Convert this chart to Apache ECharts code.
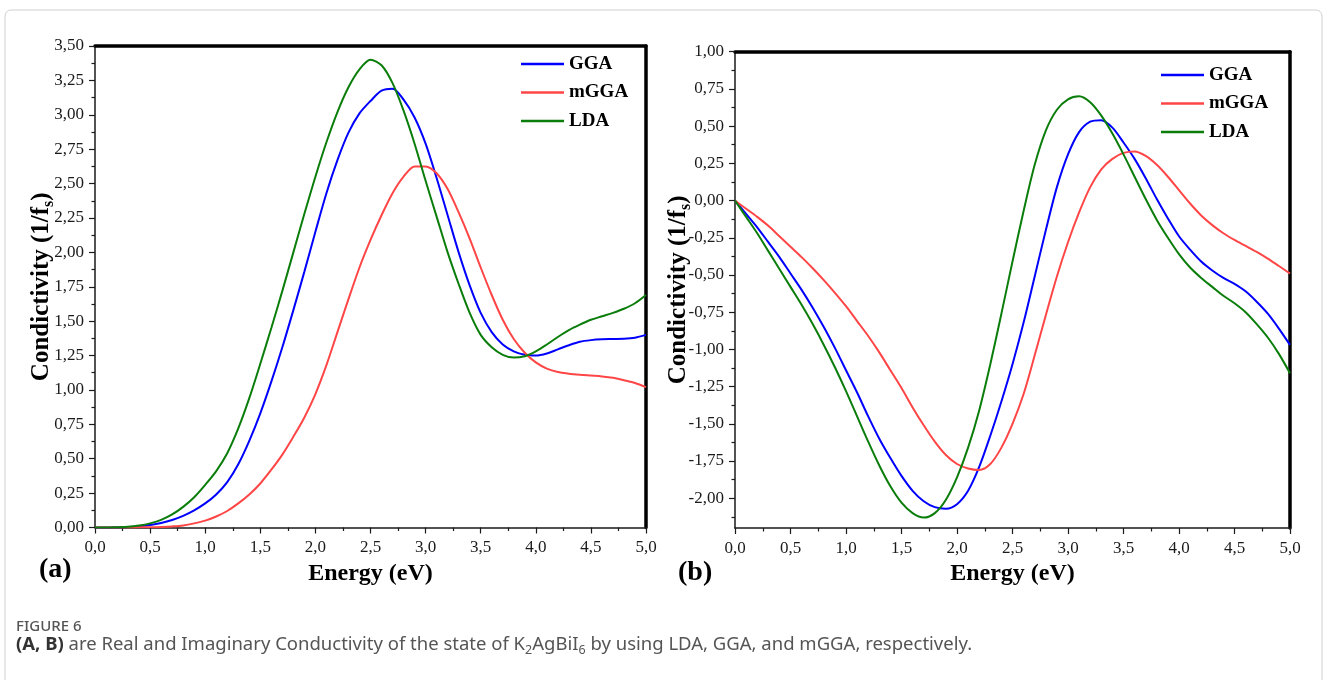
<!DOCTYPE html>
<html>
<head>
<meta charset="utf-8">
<title>Figure 6</title>
<script src="https://cdn.jsdelivr.net/npm/echarts@6/dist/echarts.min.js"></script>
<style>
html,body{margin:0;padding:0;background:#fff;}
#main{width:1328px;height:680px;}
</style>
</head>
<body>
<div id="main"></div>
<script>
// energy grid (eV), same for both panels
var energy = [0.0,0.1,0.2,0.3,0.4,0.5,0.6,0.7,0.8,0.9,
              1.0,1.1,1.2,1.3,1.4,1.5,1.6,1.7,1.8,1.9,
              2.0,2.1,2.2,2.3,2.4,2.5,2.6,2.7,2.8,2.9,
              3.0,3.1,3.2,3.3,3.4,3.5,3.6,3.7,3.8,3.9,
              4.0,4.1,4.2,4.3,4.4,4.5,4.6,4.7,4.8,4.9,5.0];

// (a) real conductivity
var realGGA = [0,0,0.001,0.003,0.008,0.018,0.033,0.055,0.085,0.125,
               0.175,0.24,0.33,0.46,0.63,0.83,1.06,1.31,1.58,1.86,
               2.15,2.43,2.67,2.87,3.01,3.10,3.175,3.19,3.11,2.98,
               2.79,2.54,2.27,2.00,1.76,1.56,1.42,1.33,1.28,1.255,
               1.25,1.265,1.295,1.325,1.35,1.362,1.368,1.37,1.372,1.38,1.40];
var realMGGA = [0,0,0,0,0.001,0.002,0.004,0.008,0.015,0.03,
                0.05,0.08,0.12,0.175,0.24,0.32,0.42,0.53,0.66,0.80,
                0.97,1.18,1.42,1.66,1.89,2.09,2.27,2.43,2.55,2.625,
                2.625,2.575,2.46,2.29,2.10,1.89,1.69,1.51,1.37,1.27,
                1.20,1.155,1.13,1.118,1.11,1.104,1.098,1.088,1.07,1.05,1.02];
var realLDA = [0,0,0.002,0.005,0.014,0.03,0.055,0.095,0.15,0.22,
               0.31,0.41,0.54,0.72,0.94,1.19,1.45,1.72,2.00,2.28,
               2.55,2.80,3.02,3.20,3.33,3.40,3.36,3.23,3.03,2.79,
               2.52,2.26,2.00,1.77,1.56,1.40,1.31,1.255,1.235,1.245,
               1.28,1.33,1.385,1.435,1.475,1.51,1.535,1.56,1.59,1.63,1.69];

// (b) imaginary conductivity
var imagGGA = [0,-0.09,-0.18,-0.28,-0.38,-0.49,-0.60,-0.72,-0.85,-0.99,
               -1.14,-1.29,-1.45,-1.60,-1.73,-1.85,-1.95,-2.02,-2.06,-2.07,
               -2.04,-1.95,-1.79,-1.58,-1.35,-1.10,-0.82,-0.51,-0.20,0.09,
               0.31,0.46,0.53,0.54,0.49,0.39,0.28,0.15,0.01,-0.12,
               -0.24,-0.33,-0.41,-0.47,-0.52,-0.56,-0.61,-0.68,-0.76,-0.86,-0.97];
var imagMGGA = [0,-0.055,-0.11,-0.17,-0.24,-0.31,-0.38,-0.455,-0.535,-0.62,
                -0.71,-0.81,-0.91,-1.02,-1.14,-1.26,-1.39,-1.51,-1.62,-1.71,
                -1.77,-1.80,-1.81,-1.77,-1.66,-1.50,-1.30,-1.04,-0.77,-0.51,
                -0.28,-0.08,0.09,0.21,0.28,0.32,0.33,0.30,0.24,0.16,
                0.07,-0.02,-0.10,-0.165,-0.22,-0.265,-0.305,-0.345,-0.39,-0.44,-0.49];
var imagLDA = [0,-0.11,-0.22,-0.34,-0.46,-0.58,-0.70,-0.83,-0.97,-1.12,
               -1.28,-1.45,-1.62,-1.78,-1.92,-2.03,-2.10,-2.13,-2.10,-2.01,
               -1.86,-1.66,-1.41,-1.10,-0.76,-0.41,-0.07,0.24,0.47,0.61,
               0.68,0.70,0.66,0.57,0.45,0.31,0.16,0.01,-0.13,-0.25,
               -0.36,-0.45,-0.52,-0.58,-0.64,-0.69,-0.75,-0.83,-0.92,-1.03,-1.16];

// tick positions of panel (b), whose axis starts at -2.2
var yTicksB = [-2,-1.75,-1.5,-1.25,-1,-0.75,-0.5,-0.25,0,0.25,0.5,0.75,1];
var yMinorB = [-2.125,-1.875,-1.625,-1.375,-1.125,-0.875,-0.625,-0.375,-0.125,0.125,0.375,0.625,0.875];

var names = ['GGA', 'mGGA', 'LDA'];
var colors = ['#0000ff', '#ff4646', '#0a7d0a'];

var serif = '"Liberation Serif", "Times New Roman", "DejaVu Serif", serif';
var ink = '#1a1a1a';

function pairs(ys) {
    return energy.map(function (e, i) { return [e, ys[i]]; });
}
function comma(d) {
    return function (v) { return v.toFixed(d).replace('.', ','); };
}

var yName = '{a|Condictivity (1/f}{b|s}{a|)}';
var yNameStyle = {
    rich: {
        a: {fontFamily: serif, fontWeight: 'bold', fontSize: 25, color: '#000', lineHeight: 28, verticalAlign: 'top'},
        b: {fontFamily: serif, fontWeight: 'bold', fontSize: 16, color: '#000', lineHeight: 20, verticalAlign: 'bottom'}
    },
    lineHeight: 34
};
var tickLabel = {fontFamily: serif, fontWeight: 'normal', fontSize: 17, color: ink};

function bottomAxis(grid) {
    return {
        gridIndex: grid, type: 'value', min: 0, max: 5, interval: 0.5, position: 'bottom',
        axisLine: {onZero: false, lineStyle: {color: ink, width: 1.5}},
        axisTick: {length: 6, lineStyle: {color: ink, width: 1.2}},
        minorTick: {show: true, splitNumber: 2, length: 3.5, lineStyle: {color: ink, width: 1.2}},
        splitLine: {show: false},
        axisLabel: Object.assign({formatter: comma(1), margin: 12}, tickLabel),
        name: 'Energy (eV)', nameLocation: 'middle', nameGap: 32,
        nameTextStyle: {fontFamily: serif, fontWeight: 'bold', fontSize: 24, color: '#000'}
    };
}
function topAxis(grid) {
    return {
        gridIndex: grid, type: 'value', min: 0, max: 5, position: 'top',
        axisLine: {show: true, onZero: false, lineStyle: {color: '#000', width: 3.5}},
        axisTick: {show: false}, axisLabel: {show: false}, splitLine: {show: false}
    };
}
function rightAxis(grid, lo, hi) {
    return {
        gridIndex: grid, type: 'value', min: lo, max: hi, position: 'right',
        axisLine: {show: true, onZero: false, lineStyle: {color: '#000', width: 3.5}},
        axisTick: {show: false}, axisLabel: {show: false}, splitLine: {show: false}
    };
}
function legendAt(left, top) {
    return {
        data: names, left: left, top: top, orient: 'vertical', icon: 'rect', padding: 0,
        itemWidth: 43, itemHeight: 2.5, itemGap: 8.5, selectedMode: false,
        textStyle: {fontFamily: serif, fontWeight: 'bold', fontSize: 19, color: '#000', lineHeight: 20}
    };
}

var option = {
    backgroundColor: '#fff',
    animation: false,
    textStyle: {fontFamily: serif},
    grid: [
        {left: 95, top: 46, width: 551, height: 481.5},
        {left: 735, top: 51.7, width: 555, height: 476.3}
    ],
    xAxis: [bottomAxis(0), topAxis(0), bottomAxis(1), topAxis(1)],
    yAxis: [
        {
            gridIndex: 0, type: 'value', min: 0, max: 3.5, interval: 0.25, position: 'left',
            axisLine: {show: true, lineStyle: {color: ink, width: 1.5}},
            axisTick: {show: true, length: 6, lineStyle: {color: ink, width: 1.2}},
            minorTick: {show: true, splitNumber: 2, length: 3.5, lineStyle: {color: ink, width: 1.2}},
            splitLine: {show: false},
            axisLabel: Object.assign({formatter: comma(2), margin: 11}, tickLabel),
            name: yName, nameLocation: 'middle', nameRotate: 90, nameGap: 38,
            nameMoveOverlap: false, nameTextStyle: yNameStyle
        },
        rightAxis(0, 0, 3.5),
        {
            gridIndex: 1, type: 'value', min: -2.2, max: 1, position: 'left',
            axisLine: {show: true, onZero: false, lineStyle: {color: ink, width: 1.5}},
            axisTick: {show: true, length: 6, customValues: yTicksB, lineStyle: {color: ink, width: 1.2}},
            splitLine: {show: false},
            axisLabel: Object.assign({customValues: yTicksB, formatter: comma(2), margin: 11}, tickLabel),
            name: yName, nameLocation: 'middle', nameRotate: 90, nameGap: 41,
            nameMoveOverlap: false, nameTextStyle: yNameStyle
        },
        {
            gridIndex: 1, type: 'value', min: -2.2, max: 1, position: 'left',
            axisLine: {show: false},
            axisTick: {show: true, length: 3.5, customValues: yMinorB, lineStyle: {color: ink, width: 1.2}},
            axisLabel: {show: false}, splitLine: {show: false}
        },
        rightAxis(1, -2.2, 1)
    ],
    legend: [legendAt(521, 54), legendAt(1161, 65)],
    series: [],
    graphic: [
        {type: 'rect', shape: {x: 5, y: 10, width: 1317, height: 720, r: 6},
         style: {fill: 'none', stroke: '#cfcfcf', lineWidth: 1}, silent: true},
        {type: 'text', left: 39, top: 556,
         style: {text: '(a)', font: 'bold 28px "Liberation Serif"', fill: '#000'}},
        {type: 'text', left: 678, top: 559,
         style: {text: '(b)', font: 'bold 28px "Liberation Serif"', fill: '#000'}},
        {type: 'text', left: 16, top: 619,
         style: {text: 'FIGURE 6', font: '500 15px "Noto Sans"', fill: '#555'}},
        {type: 'text', left: 16, top: 635,
         style: {
             text: '{b|(A, B)}{r| are Real and Imaginary Conductivity of the state of K}{s|2}{r|AgBiI}{s|6}{r| by using LDA, GGA, and mGGA, respectively.}',
             rich: {
                 b: {fontFamily: 'Noto Sans', fontWeight: 'bold', fontSize: 18.5, fill: '#333', lineHeight: 24},
                 r: {fontFamily: 'Noto Sans', fontSize: 18.5, fill: '#555', lineHeight: 24},
                 s: {fontFamily: 'Noto Sans', fontSize: 12.5, fill: '#555', lineHeight: 15, verticalAlign: 'bottom'}
             }
         }}
    ]
};

var sets = [[realGGA, realMGGA, realLDA], [imagGGA, imagMGGA, imagLDA]];
sets.forEach(function (group, g) {
    group.forEach(function (ys, k) {
        option.series.push({
            name: names[k], type: 'line', smooth: 0.3, symbol: 'none',
            xAxisIndex: g * 2, yAxisIndex: g * 2,
            lineStyle: {color: colors[k], width: 2},
            itemStyle: {color: colors[k]},
            data: pairs(ys)
        });
    });
});

var myChart = echarts.init(document.getElementById('main'));
myChart.setOption(option);
</script>
</body>
</html>
